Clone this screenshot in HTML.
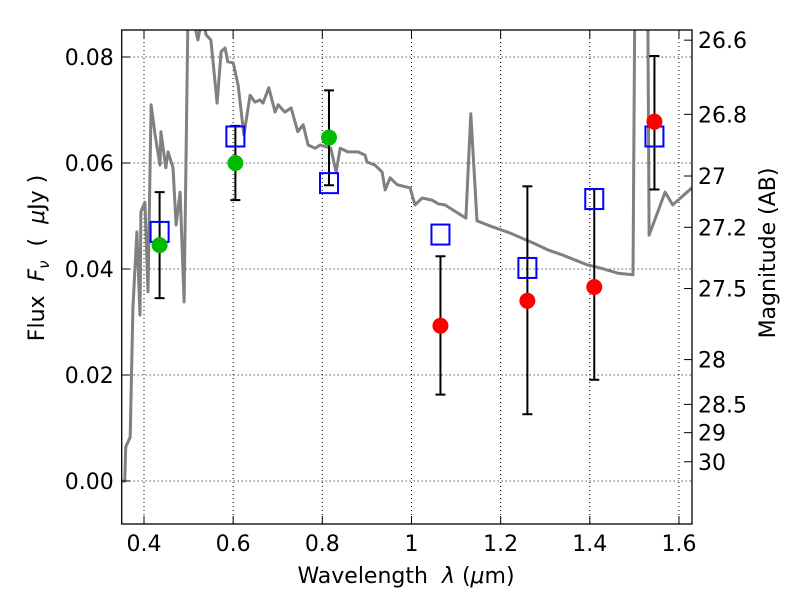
<!DOCTYPE html>
<html><head><meta charset="utf-8"><style>
body{margin:0;background:#fff}
svg text{font-family:"DejaVu Sans","Liberation Sans",sans-serif;fill:#000}
</style></head><body>
<svg id="chart" width="800" height="600" xmlns="http://www.w3.org/2000/svg">
<rect width="800" height="600" fill="#fff"/>
<g id="grid"></g>
<g id="plot"></g>
<g id="axes"></g>
<text x="406" y="583" font-size="22" text-anchor="middle" xml:space="preserve">Wavelength  <tspan font-style="italic">λ</tspan> (<tspan font-style="italic">μ</tspan>m)</text>
<text transform="translate(44,258) rotate(-90)" font-size="22" text-anchor="middle" xml:space="preserve">Flux  <tspan font-style="italic">F<tspan font-size="15" dy="5">ν</tspan></tspan><tspan dy="-5">  (  </tspan><tspan font-style="italic">μ</tspan>Jy )</text>
<text transform="translate(775,253) rotate(-90)" font-size="22" text-anchor="middle">Magnitude (AB)</text>
</svg>
<script>
const sedWave=[0.349,0.357,0.359,0.369,0.375,0.384,0.391,0.393,0.402,0.409,0.416,0.425,0.436,0.438,0.449,0.454,0.465,0.472,0.481,0.490,0.499,0.503,0.521,0.532,0.539,0.550,0.564,0.573,0.582,0.588,0.600,0.611,0.624,0.638,0.649,0.660,0.667,0.680,0.694,0.701,0.716,0.730,0.745,0.757,0.768,0.784,0.795,0.819,0.831,0.840,0.857,0.880,0.896,0.900,0.918,0.934,0.941,0.952,0.968,0.997,1.008,1.024,1.046,1.060,1.075,1.122,1.133,1.147,1.183,1.221,1.273,1.306,1.340,1.394,1.423,1.463,1.497,1.501,1.530,1.533,1.569,1.586,1.629,1.64];
const sedFlux=[0,0,0.0064,0.0083,0.0326,0.0470,0.0313,0.0508,0.0526,0.0357,0.0710,0.0653,0.0596,0.0659,0.0591,0.0621,0.0591,0.0483,0.0545,0.0338,0.09,0.09,0.0832,0.088,0.0842,0.0832,0.0713,0.0810,0.0817,0.0791,0.0789,0.0747,0.0653,0.0728,0.0715,0.0719,0.0713,0.0742,0.0696,0.0710,0.0696,0.0704,0.0659,0.0672,0.0634,0.0628,0.0634,0.0628,0.0583,0.0628,0.0621,0.0621,0.0615,0.0602,0.0596,0.0583,0.0549,0.0572,0.0559,0.0553,0.0521,0.0534,0.0530,0.0523,0.0521,0.0496,0.0693,0.0491,0.0479,0.0468,0.0449,0.0436,0.0426,0.0408,0.0402,0.0392,0.0389,0.09,0.09,0.0464,0.0545,0.0521,0.0553,0.0560];
const obsWave=[0.435,0.605,0.815,1.065,1.26,1.41,1.545];
const obsFlux=[0.0445,0.060,0.0648,0.0293,0.034,0.0366,0.0678];
const errLow=[0.0345,0.053,0.0558,0.0163,0.0126,0.0191,0.055];
const errHigh=[0.0545,0.067,0.0737,0.0424,0.0556,0.0551,0.0802];
const obsColor=['#00bb00','#00bb00','#00bb00','#ff0000','#ff0000','#ff0000','#ff0000'];
const modelFlux=[0.047,0.065,0.0562,0.0465,0.0402,0.0532,0.065];
const xTicks=[0.4,0.6,0.8,1.0,1.2,1.4,1.6];
const xTickLabels=['0.4','0.6','0.8','1','1.2','1.4','1.6'];
const yTicks=[0,0.02,0.04,0.06,0.08];
const yTickLabels=['0.00','0.02','0.04','0.06','0.08'];
const magTicks=[26.6,26.8,27,27.2,27.5,28,28.5,29,30];
const magTickLabels=['26.6','26.8','27','27.2','27.5','28','28.5','29','30'];

const L=121.7,R=692,T=30,B=524;
const X=v=>144+(v-0.4)*445.8;
const Y=v=>481-v*5300;
const magToFlux=m=>Math.pow(10,(23.9-m)/2.5);
const NS='http://www.w3.org/2000/svg';
function mk(tag,attrs,parent){const e=document.createElementNS(NS,tag);for(const k in attrs)e.setAttribute(k,attrs[k]);parent.appendChild(e);return e;}
const grid=document.getElementById('grid'),plot=document.getElementById('plot'),axes=document.getElementById('axes');
xTicks.forEach((v,i)=>{
 const g=mk('line',{x1:X(v),x2:X(v),y1:T,y2:B,stroke:'#000','stroke-width':1,'stroke-dasharray':'1,3'},grid);
 
 
 const t1=mk('line',{x1:X(v),x2:X(v),y1:B,y2:B-8,stroke:'#000'},axes);
 
 
 mk('line',{x1:X(v),x2:X(v),y1:T,y2:T+8,stroke:'#000'},axes);
 const tx=mk('text',{x:X(v),y:B+27,'font-size':22,'text-anchor':'middle'},axes);tx.textContent=xTickLabels[i];
 
 
});
yTicks.forEach((v,i)=>{
 const g=mk('line',{x1:L,x2:R,y1:Y(v),y2:Y(v),stroke:'#000','stroke-width':1,'stroke-dasharray':'1,3'},grid);
 
 
 const t1=mk('line',{x1:L,x2:L+8,y1:Y(v),y2:Y(v),stroke:'#000'},axes);
 
 
 const tx=mk('text',{x:L-8,y:Y(v)+8,'font-size':22,'text-anchor':'end'},axes);tx.textContent=yTickLabels[i];
 
 
});
magTicks.forEach((m,i)=>{
 const y=Y(magToFlux(m));
 const t1=mk('line',{x1:R,x2:R-8,y1:y,y2:y,stroke:'#000'},axes);
 
 
 const tx=mk('text',{x:R+6,y:y+8,'font-size':22},axes);tx.textContent=magTickLabels[i];
 
 
});
const clip=mk('clipPath',{id:'pc'},plot);mk('rect',{x:L,y:T,width:R-L,height:B-T},clip);
const pg=mk('g',{'clip-path':'url(#pc)'},plot);
const pts=sedWave.map((w,i)=>X(w).toFixed(1)+','+Y(sedFlux[i]).toFixed(1)).join(' ');
const sed=mk('polyline',{points:pts,fill:'none',stroke:'#808080','stroke-width':3,'stroke-linejoin':'round'},pg);


obsWave.forEach((w,i)=>{
 const x=X(w);
 const e=mk('line',{x1:x,x2:x,y1:Y(errLow[i]),y2:Y(errHigh[i]),stroke:'#000','stroke-width':2},pg);
 
 
 mk('line',{x1:x-5,x2:x+5,y1:Y(errLow[i]),y2:Y(errLow[i]),stroke:'#000','stroke-width':2},pg);
 mk('line',{x1:x-5,x2:x+5,y1:Y(errHigh[i]),y2:Y(errHigh[i]),stroke:'#000','stroke-width':2},pg);
 const s=mk('rect',{x:x-9,y:Y(modelFlux[i])-10,width:18,height:20,fill:'none',stroke:'#0000ff','stroke-width':2},pg);
 
 
 const c=mk('circle',{cx:x,cy:Y(obsFlux[i]),r:8,fill:obsColor[i]},pg);
 
 
});
const fr=mk('rect',{x:L,y:T,width:R-L,height:B-T,fill:'none',stroke:'#000','stroke-width':1.3},axes);


</script>
</body></html>
